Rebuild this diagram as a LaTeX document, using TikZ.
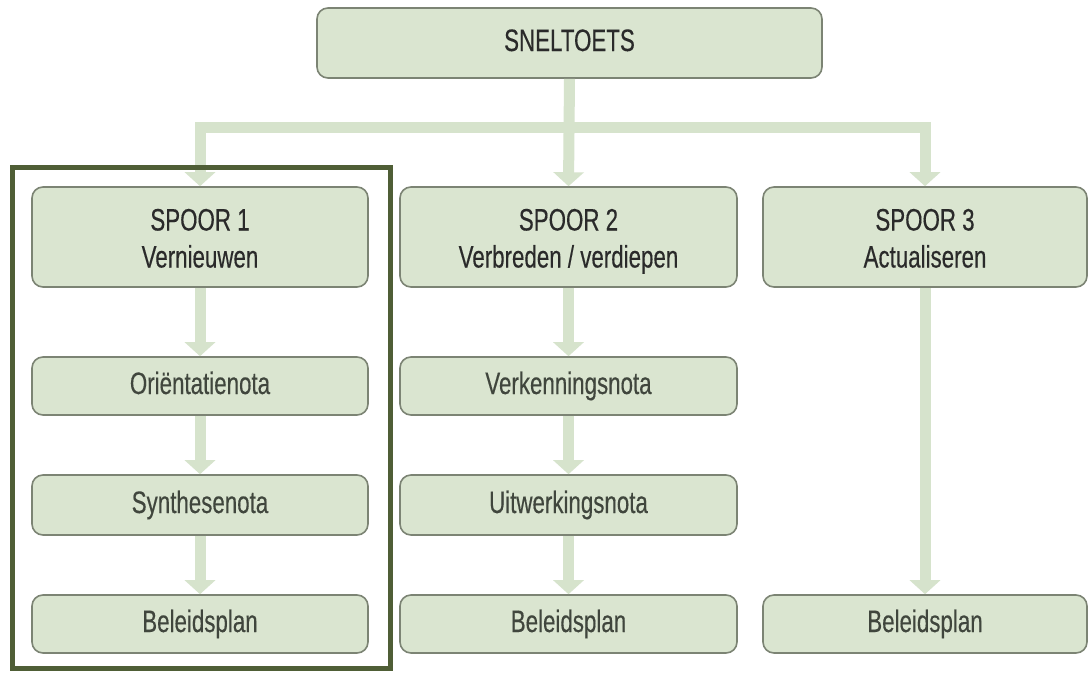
\documentclass[tikz,border=0pt]{standalone}
\usepackage{fontspec}
\setmainfont{Liberation Sans}[FakeStretch=0.72,FakeBold=0.3]
\usetikzlibrary{arrows.meta}
\definecolor{boxfill}{HTML}{DAE5D0}
\definecolor{boxline}{HTML}{7C8474}
\definecolor{arrowc}{HTML}{D6E3CC}
\definecolor{framec}{HTML}{4F5E36}
\definecolor{txtdark}{HTML}{2A2A2A}
\definecolor{txtmid}{HTML}{40463D}
\newcommand{\toprule}{\rule{0pt}{31pt}}
\newcommand{\botrule}{\rule[-7pt]{0pt}{7pt}}
\tikzset{
  box/.style={draw=boxline, line width=1.6pt, fill=boxfill, rounded corners=11pt,
    align=center, inner sep=0pt, font=\fontsize{31}{37}\selectfont},
  bigbox/.style={box, text=txtdark},
  smallbox/.style={box, text=txtmid, minimum height=58pt, text height=22pt, text depth=6pt},
  conn/.style={draw=arrowc, line width=11pt, line join=miter,
    -{Triangle[width=30pt,length=14pt]}},
  frame/.style={draw=framec, line width=5pt}
}
\begin{document}
\begin{tikzpicture}[x=1pt,y=-1pt]
\useasboundingbox (0,0) rectangle (1089,672);
\fill[white] (0,0) rectangle (1089,672);
% nodes
\node[bigbox, minimum width=505pt, minimum height=70pt, text height=22pt, text depth=6pt] (snel) at (569.5,43) {SNELTOETS};
\node[bigbox, minimum width=336pt, minimum height=100pt] (s1) at (200,237) {\toprule SPOOR 1\\Vernieuwen\botrule};
\node[bigbox, minimum width=337pt, minimum height=100pt] (s2) at (568.5,237) {\toprule SPOOR 2\\Verbreden / verdiepen\botrule};
\node[bigbox, minimum width=324pt, minimum height=100pt] (s3) at (925,237) {\toprule SPOOR 3\\Actualiseren\botrule};
\node[smallbox, minimum width=336pt] (o1) at (200,386) {Oriëntatienota};
\node[smallbox, minimum width=337pt] (v2) at (568.5,386) {Verkenningsnota};
\node[smallbox, minimum width=336pt, minimum height=60pt] (syn1) at (200,505) {Synthesenota};
\node[smallbox, minimum width=337pt, minimum height=60pt] (u2) at (568.5,505) {Uitwerkingsnota};
\node[smallbox, minimum width=336pt] (b1) at (200,624) {Beleidsplan};
\node[smallbox, minimum width=337pt] (b2) at (568.5,624) {Beleidsplan};
\node[smallbox, minimum width=324pt] (b3) at (925,624) {Beleidsplan};
\coordinate (bar) at (0,127);
% connectors
\draw[conn] (snel.south) -- (s2.north);
\draw[conn, {Triangle[width=30pt,length=14pt]}-{Triangle[width=30pt,length=14pt]}]
  (s1.north) |- (s3.north|-bar) -- (s3.north);
\draw[conn] (s1.south) -- (o1.north);
\draw[conn] (o1.south) -- (syn1.north);
\draw[conn] (syn1.south) -- (b1.north);
\draw[conn] (s2.south) -- (v2.north);
\draw[conn] (v2.south) -- (u2.north);
\draw[conn] (u2.south) -- (b2.north);
\draw[conn] (s3.south) -- (b3.north);
% frame around spoor 1
\draw[frame] (12,167) rectangle (390,668);
\end{tikzpicture}
\end{document}
